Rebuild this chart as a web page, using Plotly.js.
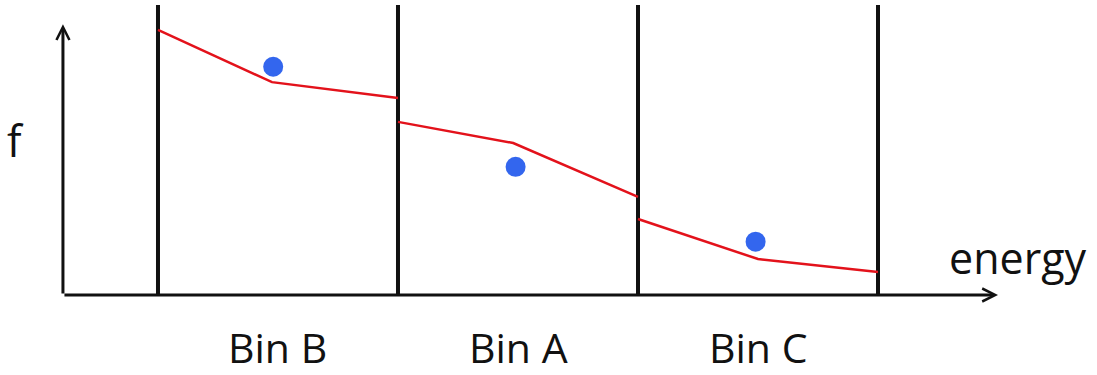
<!DOCTYPE html>
<html>
<head>
<meta charset="utf-8">
<script src="https://cdn.plot.ly/plotly-3.0.1.min.js"></script>
<style>
  html, body { margin: 0; padding: 0; background: #fff; }
  #chart { width: 1097px; height: 375px; }
</style>
</head>
<body>
<div id="chart"></div>
<script>
// bin edges along the energy axis and the bin names under them
var binEdges = [1, 2, 3, 4];
var binLabels = ['Bin B', 'Bin A', 'Bin C'];
var binTop = 10;

// red piecewise-linear curve inside each bin (start, knee, end)
var curveX = [[1, 1.475, 2], [2, 2.48, 3], [3, 3.5, 4]];
var curveY = [[9.14, 7.34, 6.79], [5.97, 5.24, 3.38], [2.62, 1.24, 0.79]];

// blue points, one per bin
var dotX = [1.48, 2.49, 3.49];
var dotY = [7.87, 4.42, 1.84];

// axis arrows: origin and tips
var axisOriginX = 0.604;
var axisTipX = 4.5;
var axisTipY = 9.34;

var ink = '#111111';
var fontFam = '"Open Sans", "Noto Sans", sans-serif';

// vertical bin boundaries as one trace with gaps
var edgeX = [], edgeY = [];
binEdges.forEach(function (e) {
  edgeX.push(e, e, null);
  edgeY.push(0, binTop, null);
});

var curveXs = [], curveYs = [];
curveX.forEach(function (xs, i) {
  curveXs = curveXs.concat(xs, [null]);
  curveYs = curveYs.concat(curveY[i], [null]);
});

var data = [
  {
    x: edgeX, y: edgeY,
    type: 'scatter', mode: 'lines',
    line: { color: ink, width: 4 },
    hoverinfo: 'skip'
  },
  {
    x: curveXs, y: curveYs,
    type: 'scatter', mode: 'lines',
    line: { color: '#e3121b', width: 2.5 },
    hoverinfo: 'skip'
  },
  {
    x: dotX, y: dotY,
    type: 'scatter', mode: 'markers',
    marker: { color: '#3366ee', size: 20, line: { width: 0 } },
    hoverinfo: 'skip'
  }
];

var annotations = [
  // x axis arrow
  {
    x: axisTipX, y: 0, ax: axisOriginX, ay: 0,
    xref: 'x', yref: 'y', axref: 'x', ayref: 'y',
    text: '', showarrow: true,
    arrowhead: 5, arrowsize: 0.85, arrowwidth: 3, arrowcolor: ink
  },
  // y axis arrow
  {
    x: axisOriginX, y: axisTipY, ax: axisOriginX, ay: 0,
    xref: 'x', yref: 'y', axref: 'x', ayref: 'y',
    text: '', showarrow: true,
    arrowhead: 5, arrowsize: 0.85, arrowwidth: 3, arrowcolor: ink
  },
  {
    x: 0.408, y: 5.34, xref: 'x', yref: 'y',
    text: 'f', showarrow: false,
    xanchor: 'center', yanchor: 'middle',
    font: { family: fontFam, size: 43, color: ink }
  },
  {
    x: 4.2875, y: 1.3, xref: 'x', yref: 'y',
    text: 'energy', showarrow: false,
    xanchor: 'left', yanchor: 'middle',
    font: { family: fontFam, size: 43, color: ink }
  }
];

binLabels.forEach(function (lab, i) {
  annotations.push({
    x: (binEdges[i] + binEdges[i + 1]) / 2, y: -1.79,
    xref: 'x', yref: 'y',
    text: lab, showarrow: false,
    xanchor: 'center', yanchor: 'middle',
    font: { family: fontFam, size: 41, color: ink }
  });
});

var layout = {
  width: 1097,
  height: 375,
  margin: { l: 0, r: 0, t: 0, b: 0 },
  paper_bgcolor: '#ffffff',
  plot_bgcolor: '#ffffff',
  showlegend: false,
  xaxis: { range: [0.3417, 4.9125], visible: false, fixedrange: true },
  yaxis: { range: [-2.759, 10.172], visible: false, fixedrange: true },
  annotations: annotations
};

Plotly.newPlot('chart', data, layout, { displayModeBar: false, staticPlot: true });
</script>
</body>
</html>
